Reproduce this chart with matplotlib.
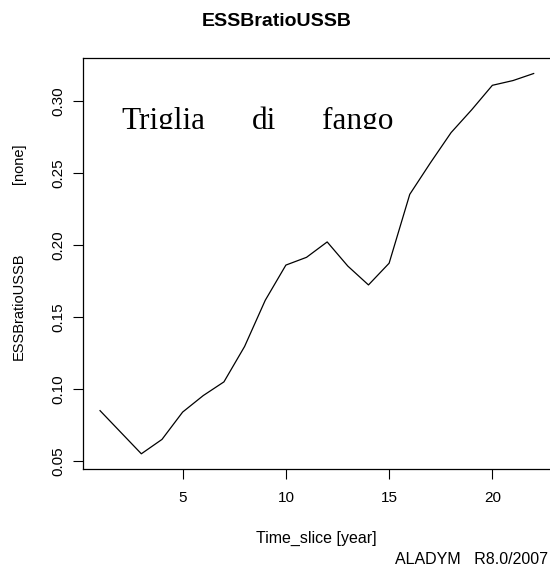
"""
Recreation of the ALADYM ESSBratioUSSB time-series plot (R base-graphics look).
"""

import matplotlib
matplotlib.use("Agg")
import matplotlib.pyplot as plt
from matplotlib.transforms import Bbox, TransformedBbox

# ── Data ──
time_slice = list(range(1, 23))
essb_ratio = [0.085, 0.070, 0.055, 0.065, 0.084, 0.0955, 0.105, 0.1296,
              0.1617, 0.1862, 0.1916, 0.2023, 0.1855, 0.1724, 0.1875,
              0.2354, 0.2573, 0.2783, 0.2942, 0.3112, 0.3145, 0.3194]
x_ticks = [5, 10, 15, 20]
y_ticks = [0.05, 0.10, 0.15, 0.20, 0.25, 0.30]
y_ticklabels = ["0.05", "0.10", "0.15", "0.20", "0.25", "0.30"]

W, H = 550, 565
plt.rcParams['font.family'] = ['Liberation Sans', 'DejaVu Sans']

fig = plt.figure(figsize=(W / 100, H / 100), dpi=100)
fig.patch.set_facecolor('white')

# axes box in pixel coords (left, top, right, bottom)
left, top, right, bottom = 82.7, 58.3, 551.0, 469.0
ax = fig.add_axes([left / W, 1 - bottom / H, (right - left) / W, (bottom - top) / H])

ax.plot(time_slice, essb_ratio, color='black', linewidth=0.9)

# R-style 4% axis extension
xspan = max(time_slice) - min(time_slice)
yspan = max(essb_ratio) - min(essb_ratio)
ax.set_xlim(min(time_slice) - 0.04 * xspan, max(time_slice) + 0.04 * xspan)
ax.set_ylim(min(essb_ratio) - 0.04 * yspan, max(essb_ratio) + 0.04 * yspan)

ax.set_xticks(x_ticks)
ax.set_yticks(y_ticks)
ax.set_yticklabels(y_ticklabels, rotation=90, va='center')
ax.tick_params(direction='out', length=7.2, width=0.8, labelsize=11, color='black')
ax.tick_params(axis='x', pad=9)
ax.tick_params(axis='y', pad=5)
for s in ax.spines.values():
    s.set_linewidth(0.9)
ax.spines['right'].set_visible(False)

# ── Titles and labels ──
fig.text(276.5 / W, 1 - 21.5 / H, "ESSBratioUSSB", ha='center', va='center',
         fontsize=14, fontweight='bold')
fig.text(316.7 / W, 1 - 538 / H, "Time_slice [year]", ha='center', va='center', fontsize=11.5)
fig.text(548 / W, 1 - 559 / H, "ALADYM   R8.0/2007", ha='right', va='center', fontsize=11.5)
fig.text(19 / W, 1 - 306.5 / H, "ESSBratioUSSB", ha='center', va='center',
         rotation=90, fontsize=10.5)
fig.text(19 / W, 1 - 164 / H, "[none]", ha='center', va='center',
         rotation=90, fontsize=10.5)

# ── Species name (serif, descenders clipped like the original) ──
clip = TransformedBbox(Bbox([[0, 1 - 129.5 / H], [1, 1]]), fig.transFigure)
for word, xc in [("Triglia", 163.3), ("di", 264.0), ("fango", 357.5)]:
    t = fig.text(xc / W, 1 - 129 / H, word, ha='center', va='baseline',
                 fontsize=22.5, family=['Liberation Serif', 'DejaVu Serif'])
    t.set_clip_box(clip)
    t.set_clip_on(True)

fig.savefig("out.png", dpi=100, facecolor='white')
